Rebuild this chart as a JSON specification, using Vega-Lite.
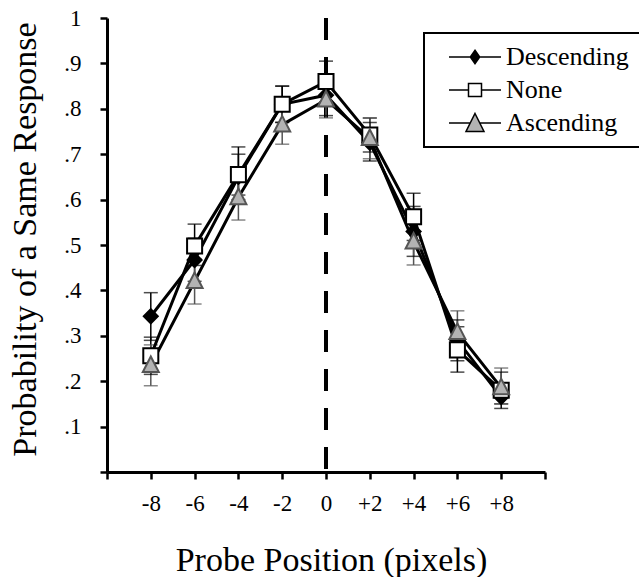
{
  "$schema": "https://vega.github.io/schema/vega-lite/v6.json",
  "width": 438,
  "height": 454,
  "autosize": {"type": "none"},
  "padding": {"left": 107, "top": 18, "right": 94, "bottom": 105},
  "background": "white",
  "config": {
    "font": "Liberation Serif",
    "view": {"stroke": null},
    "legend": {"strokeWidth": 2},
    "axis": {
      "grid": false,
      "domainColor": "black",
      "tickColor": "black",
      "labelColor": "black",
      "titleColor": "black",
      "labelFont": "Liberation Serif",
      "titleFont": "Liberation Serif",
      "titleFontWeight": "normal"
    }
  },
  "data": {
    "values": [
      {"pos": -8, "cond": "Descending", "p": 0.343, "lo": 0.29, "hi": 0.395},
      {"pos": -6, "cond": "Descending", "p": 0.467, "lo": 0.42, "hi": 0.515},
      {"pos": -4, "cond": "Descending", "p": 0.65, "lo": 0.6, "hi": 0.7},
      {"pos": -2, "cond": "Descending", "p": 0.81, "lo": 0.77, "hi": 0.85},
      {"pos": 0, "cond": "Descending", "p": 0.83, "lo": 0.785, "hi": 0.875},
      {"pos": 2, "cond": "Descending", "p": 0.725, "lo": 0.685, "hi": 0.77},
      {"pos": 4, "cond": "Descending", "p": 0.53, "lo": 0.475, "hi": 0.585},
      {"pos": 6, "cond": "Descending", "p": 0.29, "lo": 0.245, "hi": 0.335},
      {"pos": 8, "cond": "Descending", "p": 0.165, "lo": 0.14, "hi": 0.195},
      {"pos": -8, "cond": "None", "p": 0.256, "lo": 0.215, "hi": 0.297},
      {"pos": -6, "cond": "None", "p": 0.498, "lo": 0.455, "hi": 0.546},
      {"pos": -4, "cond": "None", "p": 0.655, "lo": 0.61, "hi": 0.716},
      {"pos": -2, "cond": "None", "p": 0.81, "lo": 0.77, "hi": 0.85},
      {"pos": 0, "cond": "None", "p": 0.86, "lo": 0.815, "hi": 0.905},
      {"pos": 2, "cond": "None", "p": 0.742, "lo": 0.705, "hi": 0.78},
      {"pos": 4, "cond": "None", "p": 0.562, "lo": 0.51, "hi": 0.614},
      {"pos": 6, "cond": "None", "p": 0.269, "lo": 0.22, "hi": 0.32},
      {"pos": 8, "cond": "None", "p": 0.18, "lo": 0.15, "hi": 0.22},
      {"pos": -8, "cond": "Ascending", "p": 0.235, "lo": 0.19, "hi": 0.28},
      {"pos": -6, "cond": "Ascending", "p": 0.42, "lo": 0.37, "hi": 0.47},
      {"pos": -4, "cond": "Ascending", "p": 0.605, "lo": 0.555, "hi": 0.655},
      {"pos": -2, "cond": "Ascending", "p": 0.765, "lo": 0.722, "hi": 0.81},
      {"pos": 0, "cond": "Ascending", "p": 0.82, "lo": 0.78, "hi": 0.86},
      {"pos": 2, "cond": "Ascending", "p": 0.735, "lo": 0.69, "hi": 0.78},
      {"pos": 4, "cond": "Ascending", "p": 0.507, "lo": 0.456, "hi": 0.555},
      {"pos": 6, "cond": "Ascending", "p": 0.308, "lo": 0.26, "hi": 0.355},
      {"pos": 8, "cond": "Ascending", "p": 0.186, "lo": 0.15, "hi": 0.229}
    ]
  },
  "encoding": {
    "x": {
      "field": "pos",
      "type": "quantitative",
      "scale": {"domain": [-10, 10], "nice": false, "zero": false},
      "axis": {
        "title": "Probe Position (pixels)",
        "titleFontSize": 34,
        "titleX": 224,
        "titleY": 98,
        "titleBaseline": "alphabetic",
        "titleAlign": "center",
        "values": [-10, -8, -6, -4, -2, 0, 2, 4, 6, 8, 10],
        "labelExpr": "abs(datum.value) == 10 ? '' : (datum.value > 0 ? '+' + datum.value : '' + datum.value)",
        "labelFontSize": 23,
        "labelPadding": 13,
        "tickSize": 7,
        "tickWidth": 2.5,
        "domainWidth": 3,
        "labelFlush": false,
        "labelOverlap": false
      }
    }
  },
  "layer": [
    {
      "mark": {"type": "rule", "strokeDash": [22, 17], "strokeWidth": 4, "color": "black"},
      "encoding": {"x": {"datum": 0}}
    },
    {
      "mark": {"type": "rule", "strokeWidth": 1.5},
      "encoding": {
        "y": {
          "field": "lo",
          "type": "quantitative",
          "scale": {"domain": [0, 1], "nice": false},
          "axis": {
            "title": "Probability of a Same Response",
            "titleFontSize": 34,
            "titleX": -72,
            "titleY": 221,
            "titleAngle": -90,
            "titleBaseline": "alphabetic",
            "titleAlign": "center",
            "values": [0, 0.1, 0.2, 0.3, 0.4, 0.5, 0.6, 0.7, 0.8, 0.9, 1],
            "labelExpr": "datum.value < 0.05 ? '' : (datum.value > 0.95 ? '1' : replace(format(datum.value, '.1f'), '0.', '.'))",
            "labelFontSize": 23,
            "labelPadding": 19,
            "tickSize": 7,
            "tickWidth": 2.5,
            "domainWidth": 3,
            "labelFlush": false,
            "labelOverlap": false
          }
        },
        "y2": {"field": "hi"},
        "stroke": {"field": "cond", "type": "nominal", "scale": {"range": ["#555555", "black", "black"]}, "legend": null}
      }
    },
    {
      "mark": {"type": "tick", "orient": "horizontal", "size": 14, "thickness": 1.5},
      "encoding": {
        "y": {"field": "lo", "type": "quantitative"},
        "color": {"field": "cond", "type": "nominal", "scale": {"range": ["#555555", "black", "black"]}, "legend": null}
      }
    },
    {
      "mark": {"type": "tick", "orient": "horizontal", "size": 14, "thickness": 1.5},
      "encoding": {
        "y": {"field": "hi", "type": "quantitative"},
        "color": {"field": "cond", "type": "nominal", "legend": null}
      }
    },
    {
      "mark": {"type": "line", "strokeWidth": 3, "color": "black"},
      "encoding": {
        "y": {"field": "p", "type": "quantitative"},
        "detail": {"field": "cond", "type": "nominal"}
      }
    },
    {
      "mark": {"type": "point", "filled": false, "strokeWidth": 2, "opacity": 1, "size": 256},
      "encoding": {
        "y": {"field": "p", "type": "quantitative"},
        "shape": {"field": "cond", "type": "nominal", "scale": {"range": ["M0,-1.1L1,0.85L-1,0.85Z", "M0,-0.875L0.875,0L0,0.875L-0.875,0Z", "M-0.94,-0.94H0.94V0.94H-0.94Z"]}, "legend": null},
        "fill": {"field": "cond", "type": "nominal", "scale": {"domain": ["Descending", "None", "Ascending"], "range": ["black", "white", "#b3b3b3"]}, "legend": {
          "title": null,
          "orient": "none",
          "legendX": 317,
          "legendY": 15,
          "padding": 11,
          "rowPadding": 7,
          "symbolSize": 400,
          "symbolOffset": 27,
          "labelOffset": 18,
          "labelFontSize": 26,
          "labelFont": "Liberation Serif",
          "labelColor": "black",
          "symbolStrokeWidth": 1.5,
          "symbolStrokeColor": "black",
          "symbolType": {"expr": "datum.value === 'Descending' ? 'M-2.6,0H2.6M0,-0.67L0.47,0L0,0.67L-0.47,0Z' : (datum.value === 'None' ? 'M-2.6,0H-0.65M0.65,0H2.6M-0.65,-0.65H0.65V0.65H-0.65Z' : 'M-2.6,0H-0.47M0.47,0H2.6M0,-0.95L0.9,0.85L-0.9,0.85Z')"},
          "strokeColor": "black",
          "fillColor": "white"
        }},
        "stroke": {"field": "cond", "type": "nominal", "legend": null}
      }
    }
  ]
}
